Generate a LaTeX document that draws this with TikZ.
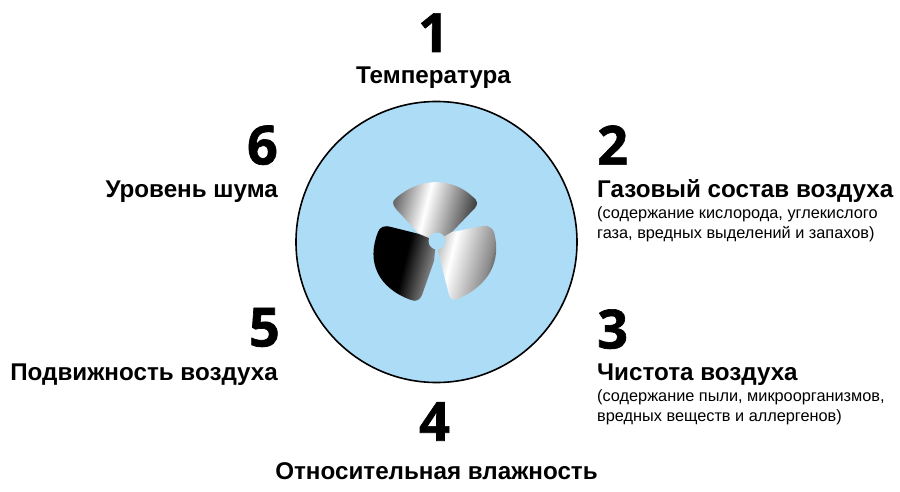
\documentclass[tikz,border=0pt]{standalone}
\usepackage{fontspec}
\setmainfont{Liberation Sans}
\newfontfamily\digitfont[BoldFeatures={FakeBold=1.2}]{Open Sans}
\usetikzlibrary{positioning}
\definecolor{airblue}{RGB}{173,220,247}
\pgfdeclarehorizontalshading{bladetop}{100bp}{color(0bp)=(black!60); color(25bp)=(black!58); color(44bp)=(white); color(75bp)=(black!80); color(100bp)=(black!85)}
\pgfdeclarehorizontalshading{bladeleft}{100bp}{color(0bp)=(black); color(52bp)=(black); color(75bp)=(black!40); color(100bp)=(black!25)}
\pgfdeclarehorizontalshading{bladeright}{100bp}{color(0bp)=(white); color(25bp)=(black!25); color(36bp)=(white); color(64bp)=(black!45); color(76bp)=(black!85); color(84bp)=(black); color(100bp)=(black)}
\tikzset{
  digit/.style={
    font=\digitfont\fontsize{54}{54}\selectfont\bfseries,
    inner sep=0pt
  },
  factor/.style={
    font=\fontsize{24.2}{28}\selectfont\bfseries,
    inner sep=0pt
  },
  remark/.style={
    font=\fontsize{16.3}{20}\selectfont,
    align=left,
    inner sep=0pt
  },
  blade/.style={draw=none}
}
\begin{document}
\begin{tikzpicture}[x=1pt,y=-1pt]
  \useasboundingbox[fill=white] (0,0) rectangle (900,492);

  \node[circle,draw=black,line width=1.6pt,fill=airblue,minimum size=281pt,inner sep=0pt] (air) at (436.5,242) {};

  % fan blades
  \shade[blade,shading=bladetop,shading angle=-14]
    (419,234) -- (396,209) .. controls (392,204) and (392,201) .. (396,198)
    .. controls (420,177) and (452,177) .. (473,197)
    .. controls (478,201) and (478,204) .. (475,208) -- (452,232) -- (436,245) -- cycle;
  \shade[blade,shading=bladeleft,shading angle=-14]
    (419,234) -- (391,227) .. controls (384,225) and (380,227) .. (378,232)
    .. controls (366,262) and (378,288) .. (411,300)
    .. controls (416,302) and (420,300) .. (422,295) -- (434,261) -- (436,241) -- cycle;
  \shade[blade,shading=bladeright,shading angle=-14]
    (452,232) -- (483,226) .. controls (489,225) and (492,228) .. (494,232)
    .. controls (502,262) and (488,285) .. (460,298)
    .. controls (455,301) and (450,300) .. (449,295) -- (440,259) -- (436,241) -- cycle;
  \fill[airblue] (air.center) ++(0.5,-1) circle (8.5);

  % labels
  \node[factor,anchor=base] (temp) at (433.5,84) {Температура};
  \node[digit,above=15pt of temp] (n1) {1};

  \node[factor,anchor=base west] (gas) at (597,197) {Газовый состав воздуха};
  \node[digit,above=14pt of gas.north west,anchor=south west] (n2) {2};
  \node[remark,below=4pt of gas.south west,anchor=north west] (gasnote) {(содержание кислорода, углекислого\\газа, вредных выделений и запахов)};

  \node[factor,anchor=base west] (clean) at (597,380) {Чистота воздуха};
  \node[digit,above=14pt of clean.north west,anchor=south west] (n3) {3};
  \node[remark,below=4pt of clean.south west,anchor=north west] (cleannote) {(содержание пыли, микроорганизмов,\\вредных веществ и аллергенов)};

  \node[factor,anchor=base] (humid) at (436.5,479) {Относительная влажность};
  \node[digit,above=21pt of humid,xshift=-2pt] (n4) {4};

  \node[factor,anchor=base east] (speed) at (278,380) {Подвижность воздуха};
  \node[digit,above=16pt of speed.north east,anchor=south east,xshift=2pt] (n5) {5};

  \node[factor,anchor=base east] (noise) at (278,197) {Уровень шума};
  \node[digit,above=15pt of noise.north east,anchor=south east] (n6) {6};
\end{tikzpicture}
\end{document}
